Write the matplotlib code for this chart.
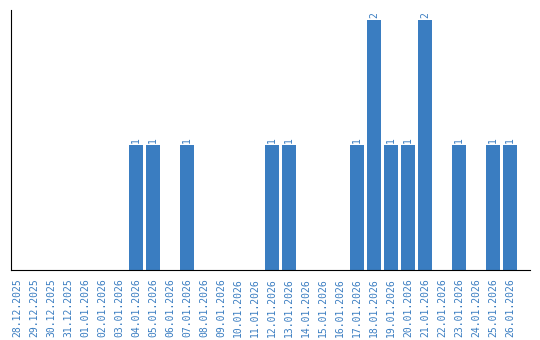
import matplotlib
matplotlib.use("Agg")
import matplotlib.pyplot as plt

dates = ["28.12.2025", "29.12.2025", "30.12.2025", "31.12.2025", "01.01.2026",
         "02.01.2026", "03.01.2026", "04.01.2026", "05.01.2026", "06.01.2026",
         "07.01.2026", "08.01.2026", "09.01.2026", "10.01.2026", "11.01.2026",
         "12.01.2026", "13.01.2026", "14.01.2026", "15.01.2026", "16.01.2026",
         "17.01.2026", "18.01.2026", "19.01.2026", "20.01.2026", "21.01.2026",
         "22.01.2026", "23.01.2026", "24.01.2026", "25.01.2026", "26.01.2026"]
counts = [0, 0, 0, 0, 0, 0, 0, 1, 1, 0,
          1, 0, 0, 0, 0, 1, 1, 0, 0, 0,
          1, 2, 1, 1, 2, 0, 1, 0, 1, 1]

color = "#3a7dc1"
fig = plt.figure(figsize=(5.4, 3.4), dpi=100)
ax = fig.add_axes([11/540, 70/340, 519/540, 260/340])
x = list(range(len(dates)))
ax.bar(x, counts, width=0.82, color=color)
for xi, v in zip(x, counts):
    if v > 0:
        ax.text(xi, v + 0.02, str(v), rotation=90, ha="center", va="bottom",
                color=color, fontsize=7, family="DejaVu Sans Mono")
ax.set_xlim(-0.35, 29 + 20/17)
ax.set_ylim(0, 2.08)
ax.set_xticks(x)
ax.set_xticklabels(dates, rotation=90, color=color, fontsize=7, family="DejaVu Sans Mono")
ax.tick_params(axis="x", length=0, pad=6)
ax.set_yticks([])
for s in ["top", "right"]:
    ax.spines[s].set_visible(False)
ax.spines["left"].set_color("black")
ax.spines["bottom"].set_color("black")
fig.savefig("out.png", dpi=100)
